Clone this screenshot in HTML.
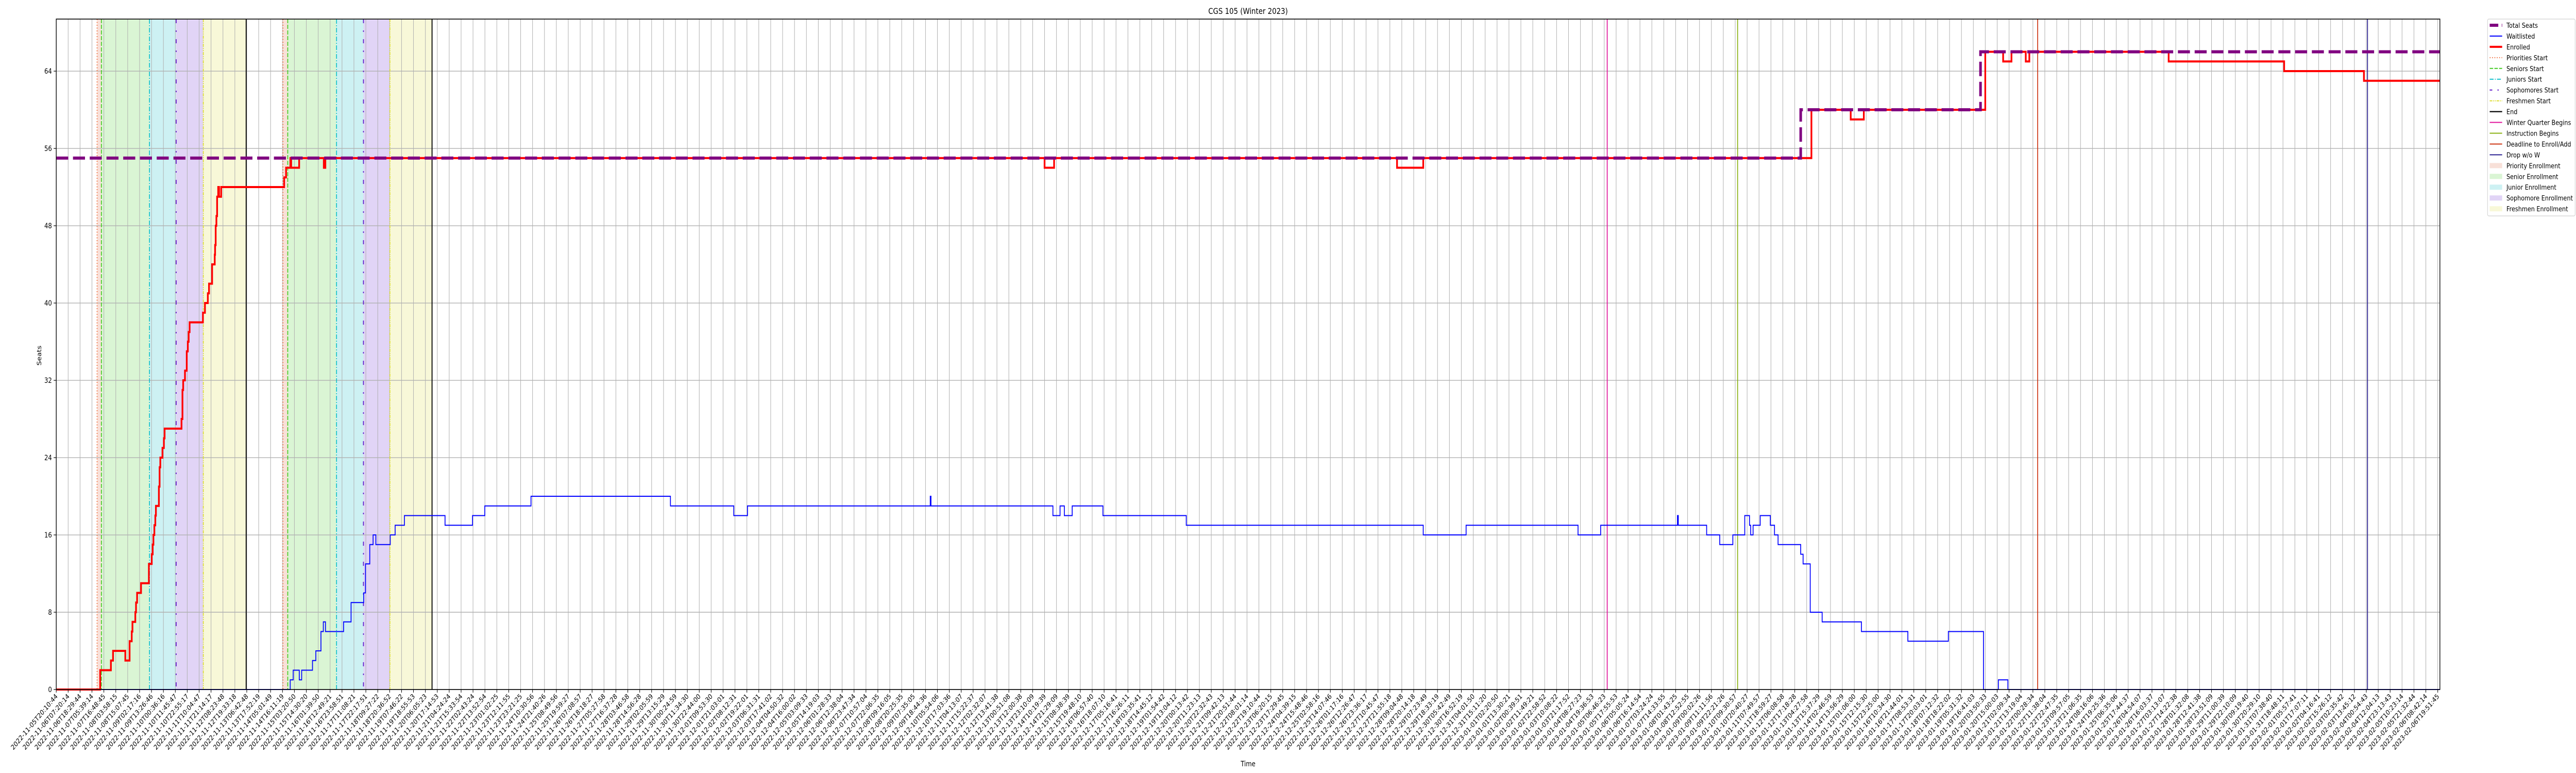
<!DOCTYPE html>
<html><head><meta charset="utf-8"><title>CGS 105 (Winter 2023)</title>
<style>
html,body{margin:0;padding:0;background:#fff;overflow:hidden;width:100%;height:100%;}
svg{display:block;width:100vw;height:100vh;font-family:"DejaVu Sans","Liberation Sans",sans-serif;}
</style></head>
<body>
<svg id="chart" viewBox="0 0 6000 1500" preserveAspectRatio="none" xmlns="http://www.w3.org/2000/svg">
<rect x="0" y="0" width="6000" height="1500" fill="#fff"/>
<g id="spans"></g>
<g id="grid"></g>
<g id="vlines"></g>
<g id="series"></g>
<g id="axes"></g>
<text x="2907" y="27" text-anchor="middle" font-size="16">CGS 105 (Winter 2023)</text>
<text x="2907" y="1487" text-anchor="middle" font-size="14">Time</text>
<text transform="translate(96,690) rotate(-90)" text-anchor="middle" font-size="14">Seats</text>
<g id="legend"></g>
</svg>
<script>
// ---- data (x in tick-index units, y in seats) ----
const tickStart = "2022-11-05T20:10:44";
const tickEnd = "2023-02-06T19:51:45";
const tickCount = 201;
const yTicks = [0, 8, 16, 24, 32, 40, 48, 56, 64];

const seatsT = [0, 146.5, 161.6];
const seatsV = [55, 60, 66];

const enrolledT = [0,3.69,4.59,4.77,5.80,6.16,6.34,6.40,6.64,6.70,6.79,7.12,7.78,8.02,8.10,8.16,8.24,8.32,8.37,8.62,8.68,8.74,8.92,9.04,9.10,10.52,10.60,10.66,10.81,10.96,11.05,11.12,11.20,12.32,12.49,12.73,12.83,13.09,13.31,13.34,13.39,13.45,13.51,13.60,13.67,13.85,19.14,19.30,19.66,19.73,20.40,22.47,22.60,83.0,83.8,112.6,114.8,147.4,150.7,151.8,162.0,163.5,164.2,165.4,165.7,177.4,187.1,193.8];
const enrolledV = [0,2,3,4,3,5,6,7,8,9,10,11,13,14,15,16,17,18,19,21,23,24,25,26,27,28,31,32,33,35,36,37,38,39,40,41,42,44,45,46,48,49,51,52,51,52,53,54,55,54,55,54,55,54,55,54,55,60,59,60,66,65,66,65,66,65,64,63];

const waitT = [0,19.65,19.9,20.41,20.61,21.52,21.8,22.23,22.43,22.61,24.13,24.76,25.82,25.97,26.33,26.61,26.84,28.05,28.46,29.24,32.65,34.96,35.99,39.87,51.58,56.9,58.05,73.40,73.46,83.7,84.3,84.66,85.32,87.9,94.9,114.8,118.4,127.8,129.7,136.15,136.22,138.6,139.7,140.8,141.8,142.2,142.3,142.5,143.1,143.95,144.3,144.6,146.5,146.7,147.3,148.3,151.6,155.5,158.9,161.85,163.1,163.9];
const waitV = [0,1,2,1,2,3,4,6,7,6,7,9,10,13,15,16,15,16,17,18,17,18,19,20,19,18,19,20,19,18,19,18,19,18,17,16,17,16,17,18,17,16,15,16,18,17,16,17,18,17,16,15,14,13,8,7,6,5,6,0,1,0];

const prioritiesStart = [3.43, 19.04];
const seniorsStart = [3.79, 19.44];
const juniorsStart = [7.83, 23.54];
const sophomoresStart = [10.07, 25.8];
const freshmenStart = [12.35, 28.02];
const endPeriod = [15.95, 31.56];
const winterBegins = [130.25];
const instructionBegins = [141.2];
const deadlineAdd = [166.4];
const dropNoW = [194.1];

// ---- scales ----
const L = 131, R = 5683, T = 37, B = 1338;
const xMax = 200.18, yMax = 69.39;
const X = v => L + v / xMax * (R - L);
const Y = v => B - v / yMax * (B - T);
const NS = "http://www.w3.org/2000/svg";
function mk(tag, attrs, parent) {
  const e = document.createElementNS(NS, tag);
  for (const k in attrs) e.setAttribute(k, attrs[k]);
  parent.appendChild(e);
  return e;
}
const gSp = document.getElementById('spans'), gG = document.getElementById('grid'),
      gV = document.getElementById('vlines'), gS = document.getElementById('series'),
      gA = document.getElementById('axes'), gL = document.getElementById('legend');

// spans
const spanDefs = [
  [prioritiesStart, seniorsStart, '#f8e0d8', 'priority-enrollment-span'],
  [seniorsStart, juniorsStart, '#daf5d4', 'senior-enrollment-span'],
  [juniorsStart, sophomoresStart, '#cdf1f3', 'junior-enrollment-span'],
  [sophomoresStart, freshmenStart, '#e1d4f6', 'sophomore-enrollment-span'],
  [freshmenStart, endPeriod, '#f8f8d8', 'freshmen-enrollment-span']
];
spanDefs.forEach(d => {
  for (let i = 0; i < d[0].length; i++) {
    const r = mk('rect', {x: X(d[0][i]), y: T, width: X(d[1][i]) - X(d[0][i]), height: B - T, fill: d[2]}, gSp);
    
    
  }
});

// ticks & grid
const t0 = Date.parse(tickStart + "Z"), t1 = Date.parse(tickEnd + "Z");
for (let i = 0; i < tickCount; i++) {
  const x = X(i);
  const gl = mk('line', {x1: x, x2: x, y1: T, y2: B, stroke: '#b0b0b0', 'stroke-width': 1.2}, gG);
  
  
  const tk = mk('line', {x1: x, x2: x, y1: B, y2: B + 6, stroke: '#000', 'stroke-width': 1.2}, gA);
  
  
  const ts = new Date(t0 + (t1 - t0) * i / (tickCount - 1)).toISOString().slice(0, 19);
  const tx = mk('text', {transform: `translate(${x + 4},${B + 14}) rotate(-45)`, 'text-anchor': 'end', 'font-size': 13.5}, gA);
  tx.textContent = ts;
  
  
}
yTicks.forEach(v => {
  const y = Y(v);
  const gl = mk('line', {x1: L, x2: R, y1: y, y2: y, stroke: '#b0b0b0', 'stroke-width': 1.4}, gG);
  
  
  const tk = mk('line', {x1: L - 6, x2: L, y1: y, y2: y, stroke: '#000', 'stroke-width': 1.2}, gA);
  
  
  const tx = mk('text', {x: L - 10, y: y + 5, 'text-anchor': 'end', 'font-size': 14}, gA);
  tx.textContent = v;
  
  
});

// event lines
const vDefs = [
  [prioritiesStart, '#f07040', 2, '2,3.5', 'priorities-start-line'],
  [seniorsStart, '#44cc22', 2, '8,3', 'seniors-start-line'],
  [juniorsStart, '#11c0cc', 2, '9,3,2,3', 'juniors-start-line'],
  [sophomoresStart, '#6622cc', 2.2, '8,14,3,14', 'sophomores-start-line'],
  [freshmenStart, '#dddd33', 2, '6,2,2,2,2,2', 'freshmen-start-line'],
  [endPeriod, '#000', 2.2, '', 'end-line'],
  [winterBegins, '#e0109a', 2, '', 'winter-quarter-begins-line'],
  [instructionBegins, '#88b010', 2, '', 'instruction-begins-line'],
  [deadlineAdd, '#cc3311', 2, '', 'deadline-enroll-line'],
  [dropNoW, '#2a2090', 2, '', 'drop-without-w-line']
];
vDefs.forEach(d => {
  d[0].forEach(v => {
    const a = {x1: X(v), x2: X(v), y1: T, y2: B, stroke: d[1], 'stroke-width': d[2]};
    if (d[3]) a['stroke-dasharray'] = d[3];
    const l = mk('line', a, gV);
    
    
  });
});

// step series
function stepPath(ts, vs) {
  let d = `M${X(ts[0])},${Y(vs[0])}`;
  for (let i = 1; i < ts.length; i++) d += `H${X(ts[i])}V${Y(vs[i])}`;
  d += `H${X(xMax)}`;
  return d;
}
const wl = mk('path', {d: stepPath(waitT, waitV), fill: 'none', stroke: '#0000ff', 'stroke-width': 2}, gS);


const en = mk('path', {d: stepPath(enrolledT, enrolledV), fill: 'none', stroke: '#ff0000', 'stroke-width': 4}, gS);


const st = mk('path', {d: stepPath(seatsT, seatsV), fill: 'none', stroke: '#800080', 'stroke-width': 6, 'stroke-dasharray': '28,11'}, gS);



// frame
const fr = mk('rect', {x: L, y: T, width: R - L, height: B - T, fill: 'none', stroke: '#000', 'stroke-width': 1.6}, gA);



// legend
const lb = mk('rect', {x: 5794, y: 37, width: 204, height: 382, rx: 3, fill: '#fff', stroke: '#d0d0d0', 'stroke-width': 1.2}, gL);


const legItems = [
  ['Total Seats', 'line', '#800080', 6, '20,8'],
  ['Waitlisted', 'line', '#0000ff', 2, ''],
  ['Enrolled', 'line', '#ff0000', 4, ''],
  ['Priorities Start', 'line', '#f07040', 2, '2,3.5'],
  ['Seniors Start', 'line', '#44cc22', 2, '8,3'],
  ['Juniors Start', 'line', '#11c0cc', 2, '9,3,2,3'],
  ['Sophomores Start', 'line', '#6622cc', 2.2, '6,12,3,12'],
  ['Freshmen Start', 'line', '#dddd33', 2, '6,2,2,2,2,2'],
  ['End', 'line', '#000', 2.2, ''],
  ['Winter Quarter Begins', 'line', '#e0109a', 2, ''],
  ['Instruction Begins', 'line', '#88b010', 2, ''],
  ['Deadline to Enroll/Add', 'line', '#cc3311', 2, ''],
  ['Drop w/o W', 'line', '#2a2090', 2, ''],
  ['Priority Enrollment', 'patch', '#f8e0d8'],
  ['Senior Enrollment', 'patch', '#daf5d4'],
  ['Junior Enrollment', 'patch', '#cdf1f3'],
  ['Sophomore Enrollment', 'patch', '#e1d4f6'],
  ['Freshmen Enrollment', 'patch', '#f8f8d8']
];
legItems.forEach((it, i) => {
  const y = 49 + i * 20.95;
  const g = mk('g', {}, gL);
  
  
  if (it[1] === 'line') {
    const a = {x1: 5799, x2: 5828, y1: y, y2: y, stroke: it[2], 'stroke-width': it[3]};
    if (it[4]) a['stroke-dasharray'] = it[4];
    mk('line', a, g);
  } else {
    mk('rect', {x: 5799, y: y - 5, width: 29, height: 10, fill: it[2]}, g);
  }
  const t = mk('text', {x: 5838, y: y + 5, 'font-size': 13.5}, g);
  t.textContent = it[0];
});
</script>
</body></html>
